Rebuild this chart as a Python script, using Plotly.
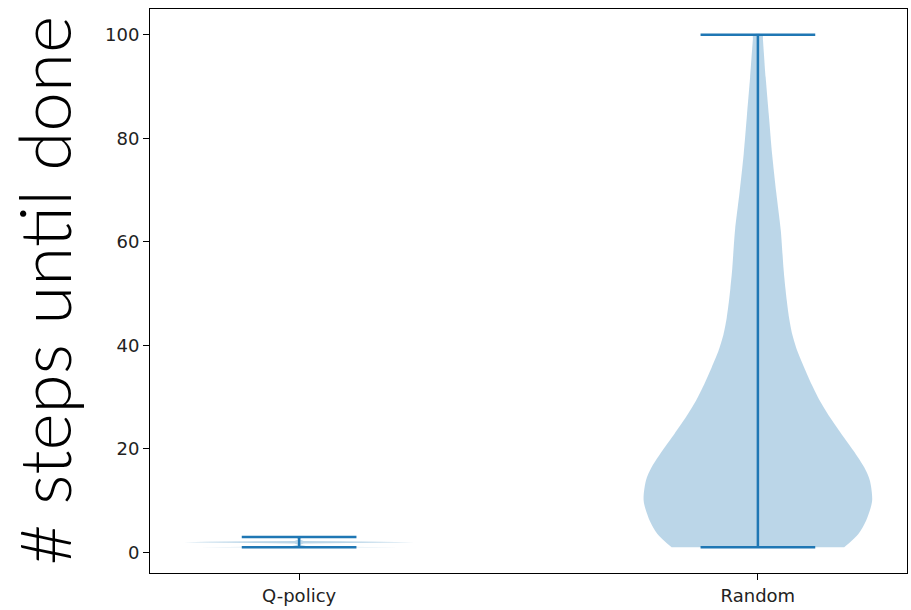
import plotly.graph_objects as go

# ---- data ----
categories = ["Q-policy", "Random"]
positions = [1, 2]
stat_min = [1, 1]
stat_max = [3, 100]

# violin profiles: y level and half-width (in x-axis units)
q_levels = [1.0, 1.05, 1.1, 1.18, 1.5, 1.76, 1.84, 1.92, 2.0, 2.08, 2.16, 2.24, 2.5, 2.9, 3.0]
q_halfw = [0.217, 0.17, 0.08, 0.02, 0.002, 0.01, 0.09, 0.2, 0.25, 0.2, 0.09, 0.01,
           0.002, 0.006, 0.03]

r_levels = [1, 3.6, 6.2, 10.0, 13.9, 16.4, 19.7, 22.9, 26.1, 29.3, 32.5, 35.7,
            38.9, 42.1, 45.3, 48.6, 51, 54.7, 62.1, 69.5, 76.9, 84.3, 91.7, 99, 100]
r_halfw = [0.188, 0.219, 0.236, 0.249, 0.244, 0.232, 0.208, 0.182, 0.157, 0.135,
           0.117, 0.101, 0.086, 0.075, 0.068, 0.063, 0.060, 0.056, 0.050, 0.040,
           0.031, 0.024, 0.017, 0.011, 0.010]

y_ticks = [0, 20, 40, 60, 80, 100]
y_label = "# steps until done"

# ---- styles ----
C0 = "#1f77b4"
FILL = "rgba(31,119,180,0.3)"
CAP_HALF = 0.125
LW = 2.5

fig = go.Figure()

profiles = [(q_levels, q_halfw, "linear"), (r_levels, r_halfw, "spline")]
for pos, (lv, hw, shape), lo, hi in zip(positions, profiles, stat_min, stat_max):
    xs = [pos - w for w in hw] + [pos + w for w in reversed(hw)]
    ys = list(lv) + list(reversed(lv))
    fig.add_trace(go.Scatter(x=xs, y=ys, fill="toself", fillcolor=FILL,
                             line=dict(width=0, shape=shape, smoothing=0.8),
                             mode="lines", hoverinfo="skip", showlegend=False))
    # vertical bar
    fig.add_trace(go.Scatter(x=[pos, pos], y=[lo, hi], mode="lines",
                             line=dict(color=C0, width=LW), showlegend=False))
    # caps
    for v in (lo, hi):
        fig.add_trace(go.Scatter(x=[pos - CAP_HALF, pos + CAP_HALF], y=[v, v],
                                 mode="lines", line=dict(color=C0, width=LW),
                                 showlegend=False))

fig.update_layout(
    width=911, height=610,
    margin=dict(l=150, r=4, t=9, b=37),
    plot_bgcolor="white", paper_bgcolor="white",
    font=dict(family="DejaVu Sans", size=18, color="#222222"),
    xaxis=dict(range=[0.675, 2.325], tickmode="array", tickvals=positions,
               ticktext=categories, ticks="outside", ticklen=6, tickwidth=1,
               tickcolor="black", showline=True, linecolor="black", linewidth=1,
               mirror=True, showgrid=False, zeroline=False),
    yaxis=dict(range=[-3.95, 104.95], tickmode="array", tickvals=y_ticks,
               ticks="outside", ticklen=6, tickwidth=1, tickcolor="black",
               showline=True, linecolor="black", linewidth=1, mirror=True,
               showgrid=False, zeroline=False),
    annotations=[dict(text=y_label, textangle=-90, xref="paper", yref="paper",
                      x=-0.141, y=0.5, xanchor="center", yanchor="middle",
                      showarrow=False,
                      font=dict(family="Lato", size=71, color="black", weight=300))],
)

fig.write_html("out.html",
               config={"displayModeBar": False},
               post_script="document.body.style.margin='0';document.body.style.overflow='hidden';")
